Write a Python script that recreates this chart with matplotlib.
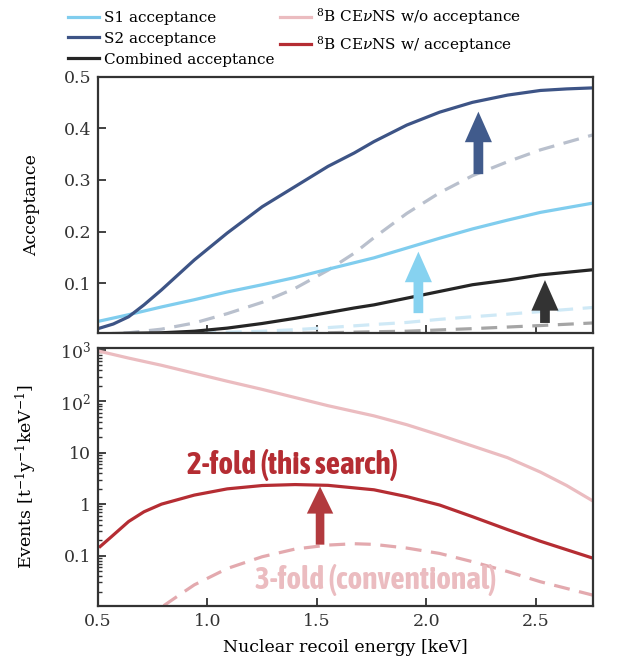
import matplotlib
matplotlib.use("Agg")
import matplotlib.pyplot as plt
from matplotlib import font_manager
from matplotlib.font_manager import FontProperties
from matplotlib.patches import ArrowStyle
from matplotlib.ticker import FixedLocator, FixedFormatter, LogLocator, NullFormatter
import numpy as np

# ---------------- data ----------------
# Top panel: acceptance curves
e_s2 = [0.5, 0.57, 0.64, 0.71, 0.79, 0.94, 1.09, 1.25, 1.40, 1.55, 1.67, 1.76, 1.91, 2.06, 2.21, 2.37, 2.52, 2.64, 2.76]
s2_acc = [0.012, 0.021, 0.035, 0.058, 0.087, 0.145, 0.197, 0.248, 0.287, 0.326, 0.352, 0.374, 0.406, 0.431, 0.450, 0.464, 0.473, 0.476, 0.478]

e_s1 = [0.5, 0.64, 0.79, 0.94, 1.09, 1.25, 1.40, 1.55, 1.76, 1.91, 2.06, 2.21, 2.37, 2.52, 2.76]
s1_acc = [0.026, 0.039, 0.054, 0.068, 0.083, 0.097, 0.111, 0.127, 0.149, 0.168, 0.187, 0.205, 0.222, 0.237, 0.255]

e_comb = [0.5, 0.64, 0.79, 0.94, 1.09, 1.25, 1.40, 1.55, 1.67, 1.76, 1.91, 2.06, 2.21, 2.37, 2.52, 2.76]
comb_acc = [0.002, 0.003, 0.004, 0.007, 0.013, 0.022, 0.032, 0.043, 0.052, 0.058, 0.071, 0.084, 0.097, 0.106, 0.116, 0.126]

e_s2_3f = [0.5, 0.64, 0.79, 0.94, 1.09, 1.25, 1.40, 1.55, 1.67, 1.76, 1.91, 2.06, 2.21, 2.37, 2.52, 2.76]
s2_acc_3f = [0.001, 0.004, 0.011, 0.023, 0.041, 0.063, 0.090, 0.125, 0.158, 0.188, 0.235, 0.275, 0.308, 0.335, 0.358, 0.387]

e_s1_3f = [0.5, 0.79, 0.94, 1.09, 1.25, 1.40, 1.55, 1.76, 1.91, 2.06, 2.21, 2.37, 2.52, 2.76]
s1_acc_3f = [0.0, 0.001, 0.003, 0.005, 0.007, 0.010, 0.014, 0.020, 0.024, 0.030, 0.035, 0.040, 0.045, 0.053]

e_comb_3f = [0.5, 1.25, 1.55, 1.76, 1.91, 2.21, 2.52, 2.76]
comb_acc_3f = [0.0, 0.002, 0.004, 0.006, 0.007, 0.012, 0.018, 0.023]

# Top panel arrows: x position, start, end (acceptance)
top_arrow_x = [1.963, 2.237, 2.541]
top_arrow_from = [0.042, 0.311, 0.023]
top_arrow_to = [0.161, 0.432, 0.106]

# Bottom panel: 8B CEvNS spectra [t^-1 y^-1 keV^-1]
e_spec_noacc = [0.51, 0.64, 0.79, 0.94, 1.09, 1.25, 1.40, 1.55, 1.76, 1.91, 2.06, 2.21, 2.37, 2.52, 2.64, 2.76]
rate_no_acc = [930, 690, 500, 350, 245, 170, 118, 82, 52, 35, 22, 13.5, 8.0, 4.2, 2.3, 1.15]

e_spec_2fold = [0.51, 0.56, 0.64, 0.71, 0.79, 0.94, 1.09, 1.25, 1.40, 1.55, 1.76, 1.91, 2.06, 2.21, 2.37, 2.52, 2.76]
rate_2fold = [0.15, 0.23, 0.46, 0.71, 1.0, 1.5, 1.98, 2.3, 2.4, 2.32, 1.9, 1.4, 0.96, 0.57, 0.32, 0.19, 0.089]

e_3fold = [0.80, 0.87, 0.94, 1.09, 1.25, 1.40, 1.55, 1.67, 1.76, 1.91, 2.06, 2.21, 2.37, 2.52, 2.76]
rate_3fold = [0.0106, 0.017, 0.027, 0.056, 0.095, 0.134, 0.160, 0.170, 0.165, 0.140, 0.110, 0.076, 0.049, 0.031, 0.017]

bot_arrow_x = [1.514]
bot_arrow_from = [0.163]
bot_arrow_to = [2.2]

legend_labels = ["S1 acceptance", "S2 acceptance", "Combined acceptance",
                 r"$^{8}$B CE$\nu$NS w/o acceptance", r"$^{8}$B CE$\nu$NS w/ acceptance"]
log_ticks = [0.1, 1, 10, 100, 1000]
log_tick_labels = ["0.1", "1", "10", r"$10^2$", r"$10^3$"]
x_ticks = [0.5, 1.0, 1.5, 2.0, 2.5]

# ---------------- style ----------------
plt.rcParams["font.family"] = ["DejaVu Serif"]
plt.rcParams["mathtext.fontset"] = "dejavuserif"


def _w(f):
    w = f.weight
    if isinstance(w, str):
        w = {"bold": 700, "semibold": 600, "demibold": 600, "heavy": 800,
             "extra bold": 800, "black": 900, "normal": 400, "regular": 400}.get(w.lower(), 400)
    return w


# pick a condensed bold sans for the annotations if one is installed
cands = []
for f in font_manager.fontManager.ttflist:
    n = f.name
    if ("Condensed" in n or "Narrow" in n) and "Serif" not in n and "Mono" not in n \
            and f.style == "normal":
        cands.append((abs(_w(f) - 700), n, f.fname))
ann_size = 22.5
if cands:
    cands.sort()
    ann_props = FontProperties(fname=cands[0][2], size=ann_size)
else:
    ann_size = 16.5
    ann_props = FontProperties(family=["DejaVu Sans"], weight="bold", size=ann_size)

c_s1 = "#80cdee"
c_s2 = "#3d5486"
c_comb = "#252525"
c_s1_3f = "#cfe9f6"
c_s2_3f = "#b9c0cd"
c_comb_3f = "#a5a5a5"
c_noacc = "#ebbcc0"
c_2fold = "#b52d33"
c_3fold = "#e3a9ae"
c_arrow_s1 = "#86d2f0"
c_arrow_s2 = "#415b8c"
c_arrow_comb = "#333333"
c_arrow_red = "#b23a3e"
spine_c = "#333333"

lw = 2.3
dash = (0, (5, 3))

fig = plt.figure(figsize=(6.21, 6.63), dpi=100)
ax1 = fig.add_axes([0.1578, 0.4973, 0.797, 0.3873])
ax2 = fig.add_axes([0.1578, 0.0864, 0.797, 0.3892])

# ---------------- top panel ----------------
ax1.plot(e_s2_3f, s2_acc_3f, color=c_s2_3f, lw=lw, ls=dash)
ax1.plot(e_s1_3f, s1_acc_3f, color=c_s1_3f, lw=lw, ls=dash)
ax1.plot(e_comb_3f, comb_acc_3f, color=c_comb_3f, lw=lw, ls=dash)
l_s1, = ax1.plot(e_s1, s1_acc, color=c_s1, lw=lw)
l_s2, = ax1.plot(e_s2, s2_acc, color=c_s2, lw=lw)
l_comb, = ax1.plot(e_comb, comb_acc, color=c_comb, lw=lw)

arrow_style = ArrowStyle.Simple(head_length=2.2, head_width=1.95, tail_width=0.7)
for xa, y0, y1, col in zip(top_arrow_x, top_arrow_from, top_arrow_to,
                           [c_arrow_s1, c_arrow_s2, c_arrow_comb]):
    ax1.annotate("", xy=(xa, y1), xytext=(xa, y0),
                 arrowprops=dict(arrowstyle=arrow_style, color=col, lw=0,
                                 mutation_scale=10, shrinkA=0, shrinkB=0),
                 zorder=5)

ax1.set_xlim(0.5, 2.76)
ax1.set_ylim(0.003, 0.5)
ax1.set_yticks([0.1, 0.2, 0.3, 0.4, 0.5])
ax1.set_yticklabels(["0.1", "0.2", "0.3", "0.4", "0.5"])
ax1.set_xticks(x_ticks)
ax1.tick_params(axis="x", labelbottom=False)
ax1.set_ylabel("Acceptance", fontsize=12.5)
ax1.yaxis.set_label_coords(-0.117, 0.5)

# ---------------- bottom panel ----------------
l_noacc, = ax2.plot(e_spec_noacc, rate_no_acc, color=c_noacc, lw=lw)
l_2fold, = ax2.plot(e_spec_2fold, rate_2fold, color=c_2fold, lw=lw)
ax2.plot(e_3fold, rate_3fold, color=c_3fold, lw=lw, ls=dash)

for xa, y0, y1 in zip(bot_arrow_x, bot_arrow_from, bot_arrow_to):
    ax2.annotate("", xy=(xa, y1), xytext=(xa, y0),
                 arrowprops=dict(arrowstyle=ArrowStyle.Simple(head_length=1.95, head_width=1.9, tail_width=0.62),
                                 color=c_arrow_red, lw=0, mutation_scale=10,
                                 shrinkA=0, shrinkB=0),
                 zorder=5)

ax2.text(1.39, 5.8, "2-fold (this search)", color=c_2fold, fontproperties=ann_props,
         ha="center", va="center")
ax2.text(1.77, 0.034, "3-fold (conventional)", color=c_noacc, fontproperties=ann_props,
         ha="center", va="center")

ax2.set_yscale("log")
ax2.set_xlim(0.5, 2.76)
ax2.set_ylim(0.0106, 1100)
ax2.yaxis.set_major_locator(FixedLocator(log_ticks))
ax2.yaxis.set_major_formatter(FixedFormatter(log_tick_labels))
ax2.yaxis.set_minor_locator(LogLocator(base=10, subs=np.arange(2, 10), numticks=20))
ax2.yaxis.set_minor_formatter(NullFormatter())
ax2.set_xticks(x_ticks)
ax2.set_xticklabels(["0.5", "1.0", "1.5", "2.0", "2.5"])
ax2.set_ylabel(r"Events [t$^{-1}$y$^{-1}$keV$^{-1}$]", fontsize=12.5)
ax2.yaxis.set_label_coords(-0.12, 0.5)
ax2.set_xlabel("Nuclear recoil energy [keV]", fontsize=12.5, labelpad=7)

for ax in (ax1, ax2):
    for s in ax.spines.values():
        s.set_linewidth(1.6)
        s.set_color(spine_c)
    ax.tick_params(which="major", direction="in", length=6, width=1.3,
                   labelsize=12.5, pad=5, color=spine_c, labelcolor="#333333")
    ax.tick_params(which="minor", direction="in", length=3, width=1.0, color=spine_c)

# ---------------- legend ----------------
fig.legend([l_s1, l_s2, l_comb, l_noacc, l_2fold], legend_labels,
           ncol=2, loc="upper left", bbox_to_anchor=(0.105, 0.995),
           frameon=False, fontsize=11, handlelength=2.0, handletextpad=0.35,
           columnspacing=0.35, labelspacing=0.45, borderpad=0.2,
           borderaxespad=0)

fig.savefig("out.png", dpi=100)
